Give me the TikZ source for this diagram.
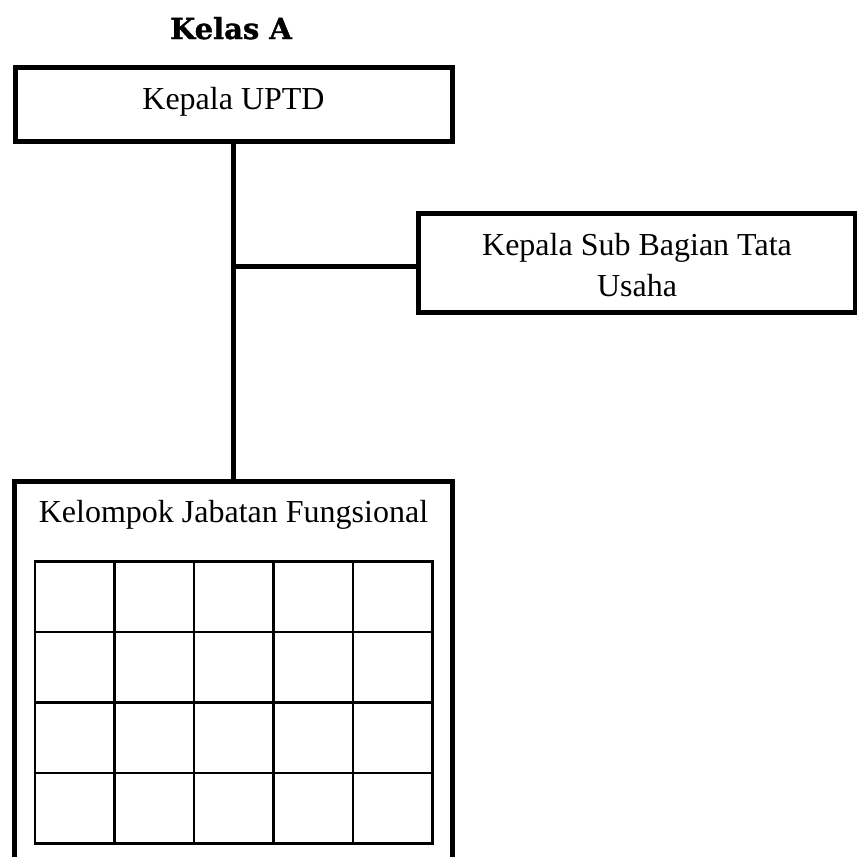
\documentclass[tikz,border=0pt]{standalone}
\usepackage{fontspec}
\setmainfont{Liberation Serif}
\newfontfamily\titlefont[FakeBold=1.2]{DejaVu Serif Bold}
\begin{document}
\begin{tikzpicture}[x=1pt,y=-1pt,
  orgbox/.style={draw=black,line width=5pt,rectangle,inner sep=0pt,outer sep=0pt},
  conn/.style={draw=black,line width=5pt},
  cell/.style={draw=black,line width=2.5pt},
  lbl/.style={anchor=base,inner sep=0pt,font=\fontsize{32}{41}\selectfont},
  ttl/.style={anchor=base,inner sep=0pt,font=\titlefont\fontsize{29}{34}\selectfont}]
\useasboundingbox (0,0) rectangle (857,857);
\clip (0,0) rectangle (857,857);
\fill[white] (0,0) rectangle (857,857);
% title
\node[ttl] (title) at (231,39) {Kelas A};
% boxes
\node[orgbox,minimum width=437.5pt,minimum height=74pt] (kepala) at (233.75,104.5) {};
\node[orgbox,minimum width=437.5pt,minimum height=99pt] (subbag) at (636.75,262.5) {};
\node[orgbox,minimum width=437.3pt,minimum height=420pt] (kjf) at (233.35,691) {};
% texts
\node[lbl] (tkepala) at (233.5,109) {Kepala UPTD};
\node[lbl] (tsub1) at (637,255) {Kepala Sub Bagian Tata};
\node[lbl] (tsub2) at (637,296) {Usaha};
\node[lbl] (tkjf) at (233.5,522) {Kelompok Jabatan Fungsional};
% connectors
\coordinate (top) at (233,141.5);
\coordinate (bot) at (233,481);
\coordinate (junc) at (233,266);
\draw[conn] (top) -- (bot);
\draw[conn] (junc) -- (junc -| subbag.west);
% grid
\draw[cell] (35,561.7) rectangle (432.3,843.3);
\foreach \i in {1,...,4} {
  \draw[cell] ({35+\i*79.46},561.7) -- ({35+\i*79.46},843.3);
}
\foreach \j in {1,...,3} {
  \draw[cell] (35,{561.7+\j*70.4}) -- (432.3,{561.7+\j*70.4});
}
\end{tikzpicture}
\end{document}
